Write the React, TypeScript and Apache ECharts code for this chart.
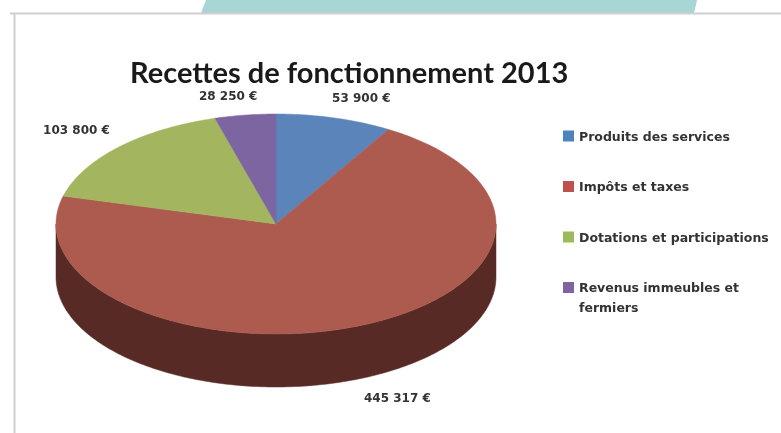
import React, { useEffect, useRef } from "react";
import * as echarts from "echarts";

const title = "Recettes de fonctionnement 2013";
const categories = ["Produits des services", "Impôts et taxes", "Dotations et participations", "Revenus immeubles et fermiers"];
const values = [53900, 445317, 103800, 28250];
const valueLabels = ["53 900 €", "445 317 €", "103 800 €", "28 250 €"];
const topColors = ["#5a84ba", "#ad5a4f", "#a3b65f", "#7c65a0"];
const sideColors = ["#2f4a6c", "#582a26", "#5f6c38", "#483a5e"];
const legendColors = ["#4f81bd", "#c0504d", "#9bbb59", "#8064a2"];
const labelOffsets = [[27, -20], [38, 19], [-42, -17], [-17, -19]];

const CX = 276, CY = 224, RX = 220, RY = 110, DEPTH = 53;
const total = values.reduce((a, b) => a + b, 0);
const pt = (deg: number, dy = 0) => {
  const t = (deg * Math.PI) / 180;
  return [CX + RX * Math.sin(t), CY - RY * Math.cos(t) + dy];
};
const arc = (a: number, b: number, dy = 0) => {
  const out: number[][] = [];
  const n = Math.max(2, Math.ceil(Math.abs(b - a)));
  for (let i = 0; i <= n; i++) out.push(pt(a + ((b - a) * i) / n, dy));
  return out;
};

export default function App() {
  const ref = useRef<HTMLDivElement>(null);
  useEffect(() => {
    document.body.style.margin = "0";
    const chart = echarts.init(ref.current!, undefined, { renderer: "svg" });
    const FONT = "Lato";
    const SMALL = "DejaVu Sans";
    const lastName = categories[3];
    const series = categories.map((name, idx) => ({
      name,
      type: "custom",
      coordinateSystem: "none",
      silent: true,
      z: 2,
      itemStyle: { color: legendColors[idx] },
      data: [[values[idx]]],
      renderItem: (_p: any, api: any) => {
        const before = values.slice(0, idx).reduce((a, b) => a + b, 0);
        const start = (before / total) * 360;
        const end = start + (Number(api.value(0)) / total) * 360;
        const children: any[] = [];
        const s = Math.max(start, 90), e = Math.min(end, 270);
        if (e > s) {
          children.push({
            type: "polygon",
            shape: { points: [...arc(s, e), ...arc(e, s, DEPTH)] },
            style: { fill: sideColors[idx], stroke: sideColors[idx], lineWidth: 0.5 },
          });
        }
        children.push({
          type: "polygon",
          shape: { points: [[CX, CY], ...arc(start, end)] },
          style: { fill: topColors[idx], stroke: topColors[idx], lineWidth: 0.5 },
        });
        const m = pt((start + end) / 2, end - start > 180 ? DEPTH : 0);
        children.push({
          type: "text",
          x: m[0] + labelOffsets[idx][0],
          y: m[1] + labelOffsets[idx][1],
          style: {
            text: valueLabels[idx],
            fontFamily: SMALL,
            fontSize: 12,
            fontWeight: "bold",
            fill: "#333",
            align: "center",
            verticalAlign: "middle",
          },
        });
        return { type: "group", children };
      },
    }));
    chart.setOption({
      animation: false,
      backgroundColor: "#ffffff",
      title: {
        text: title,
        left: 130,
        top: 57,
        padding: 0,
        textStyle: { fontFamily: FONT, fontSize: 29, fontWeight: "bold", color: "#1a1a1a" },
      },
      legend: {
        orient: "vertical",
        left: 563,
        top: 129,
        padding: 0,
        icon: "rect",
        itemWidth: 11,
        itemHeight: 11,
        itemGap: 36.5,
        selectedMode: false,
        data: categories,
        formatter: (n: string) => (n === lastName ? n.split(" ").slice(0, 3).join(" ") : n),
        textStyle: { fontFamily: SMALL, fontSize: 12.5, fontWeight: "bold", color: "#333", lineHeight: 14 },
      },
      graphic: [
        {
          type: "polygon",
          z: 1,
          shape: { points: [[206, 0], [697, 0], [694, 13], [201, 13]] },
          style: { fill: "#a8d5d6" },
        },
        { type: "line", z: 1, shape: { x1: 10, y1: 13.5, x2: 781, y2: 13.5 }, style: { stroke: "#d0d0d0", lineWidth: 2 } },
        { type: "line", z: 1, shape: { x1: 14.5, y1: 13, x2: 14.5, y2: 433 }, style: { stroke: "#d0d0d0", lineWidth: 2 } },
        {
          type: "text",
          z: 3,
          x: 579,
          y: 301,
          style: {
            text: lastName.split(" ").slice(3).join(" "),
            fontFamily: SMALL,
            fontSize: 12.5,
            fontWeight: "bold",
            fill: "#333",
          },
        },
      ],
      series,
    });
    return () => chart.dispose();
  }, []);
  return <div ref={ref} style={{ width: 781, height: 433, filter: "blur(0.7px)" }} />;
}
